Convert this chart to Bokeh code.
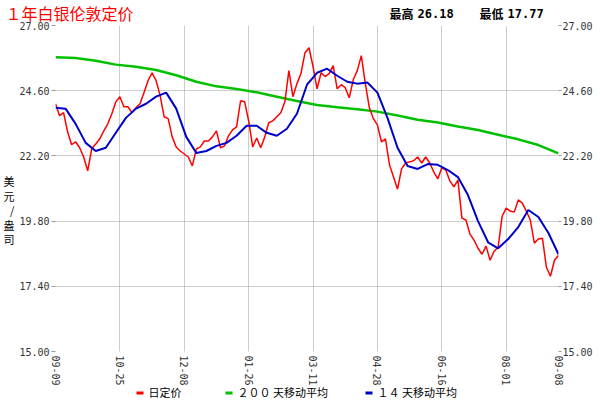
from bokeh.plotting import figure
from bokeh.layouts import column
from bokeh.models import (Range1d, FixedTicker, Label, BoxAnnotation,
                          LinearAxis, NumeralTickFormatter)
from bokeh.embed import file_html
from bokeh.resources import INLINE

# ---------------- data ----------------
title_text = "１年白银伦敦定价"
y_axis_title = ["美", "元", "/", "盎", "司"]
legend_labels = ["日定价", "２００ 天移动平均", "１４ 天移动平均"]

x_tick_pos = [0, 32, 64, 96, 128, 160, 192, 224, 250]
x_tick_labels = ["09-09", "10-25", "12-08", "01-26", "03-11",
                 "04-28", "06-16", "08-01", "09-08"]
y_ticks = [15.0, 17.4, 19.8, 22.2, 24.6, 27.0]

# daily fixing price (every 2nd trading day)
price_x = list(range(0, 251, 2))
price = [24.12, 23.68, 23.79, 23.09, 22.61, 22.72, 22.50, 22.16, 21.65, 22.46,
         22.64, 22.83, 23.12, 23.38, 23.75, 24.19, 24.38, 24.01, 24.01, 23.79,
         23.97, 24.12, 24.53, 24.97, 25.26, 24.97, 24.42, 23.64, 23.57, 22.90,
         22.53, 22.38, 22.27, 22.16, 21.83, 22.46, 22.53, 22.75, 22.75, 22.90,
         23.12, 22.50, 22.57, 22.94, 23.16, 23.27, 24.23, 24.19, 23.49, 22.53,
         22.86, 22.50, 22.90, 23.42, 23.49, 23.64, 23.79, 24.19, 25.34, 24.38,
         24.86, 25.23, 26.00, 26.18, 25.49, 24.67, 25.26, 25.12, 25.23, 25.52,
         24.67, 24.82, 24.71, 24.34, 25.01, 25.34, 25.89, 24.86, 23.97, 23.57,
         23.34, 22.72, 22.83, 21.87, 21.42, 20.98, 21.72, 21.94, 21.98, 22.02,
         22.16, 21.94, 22.16, 21.94, 21.61, 21.35, 21.76, 21.68, 21.28, 21.06,
         21.31, 19.91, 19.84, 19.32, 19.10, 18.80, 18.58, 18.88, 18.36, 18.69,
         18.84, 19.98, 20.28, 20.17, 20.13, 20.58, 20.46, 20.17, 19.84, 18.99,
         19.14, 19.17, 18.10, 17.77, 18.36, 18.54]

# 14-day moving average (every 5th trading day)
ma14_x = list(range(0, 251, 5))
ma14 = [23.97, 23.94, 23.38, 22.68, 22.38, 22.50, 23.05, 23.60, 23.94, 24.12,
        24.38, 24.53, 23.94, 22.90, 22.31, 22.38, 22.57, 22.68, 22.94, 23.31,
        23.31, 23.05, 22.94, 23.20, 23.75, 24.82, 25.26, 25.41, 25.15, 24.93,
        24.86, 24.90, 24.53, 23.60, 22.50, 21.83, 21.72, 21.90, 21.87, 21.68,
        21.42, 20.76, 19.80, 19.02, 18.80, 19.14, 19.58, 20.21, 19.95, 19.36,
        18.58]

# 200-day moving average (every 10th trading day)
ma200_x = list(range(0, 251, 10))
ma200 = [25.83, 25.80, 25.70, 25.56, 25.48, 25.36, 25.17, 24.93, 24.76, 24.66,
         24.54, 24.38, 24.22, 24.07, 23.99, 23.92, 23.83, 23.69, 23.53, 23.43,
         23.28, 23.15, 22.98, 22.81, 22.60, 22.29]

RED = "#FF0000"
GREEN = "#00C000"
BLUE = "#0000CC"
TXT = "#333333"
GRID = "#999999"
CJK = "Noto Sans CJK SC"
MONO = "DejaVu Sans Mono"

W = 600

# ---------------- header strip (title + high/low) ----------------
hdr = figure(width=W, height=25, x_range=Range1d(0, W), y_range=Range1d(25, 0),
             x_axis_type=None, y_axis_type=None, output_backend="svg",
             toolbar_location=None, min_border=0, frame_align=False,
             margin=(0, 0, -6, 0))
hdr.outline_line_color = None
hdr.background_fill_alpha = 0
hdr.border_fill_alpha = 0
hdr.add_layout(Label(x=5, y=12, text=title_text, text_color=RED, text_font=CJK,
                     text_font_size="16px", text_align="left", text_baseline="middle"))
hi = max(price)
lo = min(price)
stats = [(389, "最高", CJK), (417, f"{hi:.2f}", MONO),
         (479, "最低", CJK), (507, f"{lo:.2f}", MONO)]
for px, t, f in stats:
    hdr.add_layout(Label(x=px, y=13, text=t, text_color="black", text_font=f,
                         text_font_size="12px", text_font_style="bold",
                         text_align="left", text_baseline="middle"))

# ---------------- main chart ----------------
p = figure(width=W, height=369, x_range=Range1d(0, 250), y_range=Range1d(15, 27),
           output_backend="svg", toolbar_location=None, frame_align=False,
           min_border_left=51, min_border_right=42, min_border_top=6,
           min_border_bottom=37)
p.outline_line_color = None
p.border_fill_alpha = 0

p.xgrid.ticker = FixedTicker(ticks=x_tick_pos)
p.ygrid.ticker = FixedTicker(ticks=y_ticks)
for g in (p.xgrid[0], p.ygrid[0]):
    g.grid_line_color = GRID
    g.grid_line_dash = "1 1"
    g.grid_line_width = 1

xa = p.xaxis[0]
xa.ticker = FixedTicker(ticks=x_tick_pos)
xa.major_label_overrides = {t: s for t, s in zip(x_tick_pos, x_tick_labels)}
xa.major_label_orientation = "vertical"
xa.axis_line_color = None
xa.major_tick_line_color = None
xa.minor_tick_line_color = None
xa.major_tick_out = 0
xa.major_tick_in = 0
xa.major_label_standoff = 4
xa.major_label_text_font = MONO
xa.major_label_text_font_size = "10px"
xa.major_label_text_color = TXT

ya = p.yaxis[0]
ra = LinearAxis()
p.add_layout(ra, "right")
for ax, tout, stand in ((ya, 4, 2), (ra, 3, 1)):
    ax.ticker = FixedTicker(ticks=y_ticks)
    ax.formatter = NumeralTickFormatter(format="0.00")
    ax.axis_line_color = None
    ax.major_tick_line_color = GRID
    ax.minor_tick_line_color = None
    ax.major_tick_out = tout
    ax.major_tick_in = 0
    ax.major_label_standoff = stand
    ax.major_label_text_font = MONO
    ax.major_label_text_font_size = "10px"
    ax.major_label_text_color = TXT

ya.axis_label = "\n\n\n" + "\n".join(y_axis_title)
ya.axis_label_orientation = "horizontal"
ya.axis_label_standoff = 2
ya.axis_label_text_font = CJK
ya.axis_label_text_font_size = "11px"
ya.axis_label_text_font_style = "normal"
ya.axis_label_text_line_height = 0.9
ya.axis_label_text_color = "black"

p.line(ma200_x, ma200, line_color=GREEN, line_width=2.5)
p.line(price_x, price, line_color=RED, line_width=1.5)
p.line(ma14_x, ma14, line_color=BLUE, line_width=2)

# ---------------- legend strip ----------------
ftr = figure(width=W, height=20, x_range=Range1d(0, W), y_range=Range1d(20, 0),
             x_axis_type=None, y_axis_type=None, output_backend="svg",
             toolbar_location=None, min_border=0, frame_align=False,
             margin=(-8, 0, 0, 0))
ftr.outline_line_color = None
ftr.background_fill_alpha = 0
ftr.border_fill_alpha = 0
leg_pos = [136, 225, 365]
for lab, col, vx in zip(legend_labels, [RED, GREEN, BLUE], leg_pos):
    ftr.add_layout(BoxAnnotation(left=vx, right=vx + 7, top=11, bottom=14,
                                 fill_color=col, fill_alpha=1, line_color=None))
    ftr.add_layout(Label(x=vx + 12, y=11.5, text=lab, text_color="black",
                         text_font=CJK, text_font_size="11px",
                         text_align="left", text_baseline="middle"))

layout = column(hdr, p, ftr, spacing=0)
open("out.html", "w").write(file_html(layout, INLINE))
